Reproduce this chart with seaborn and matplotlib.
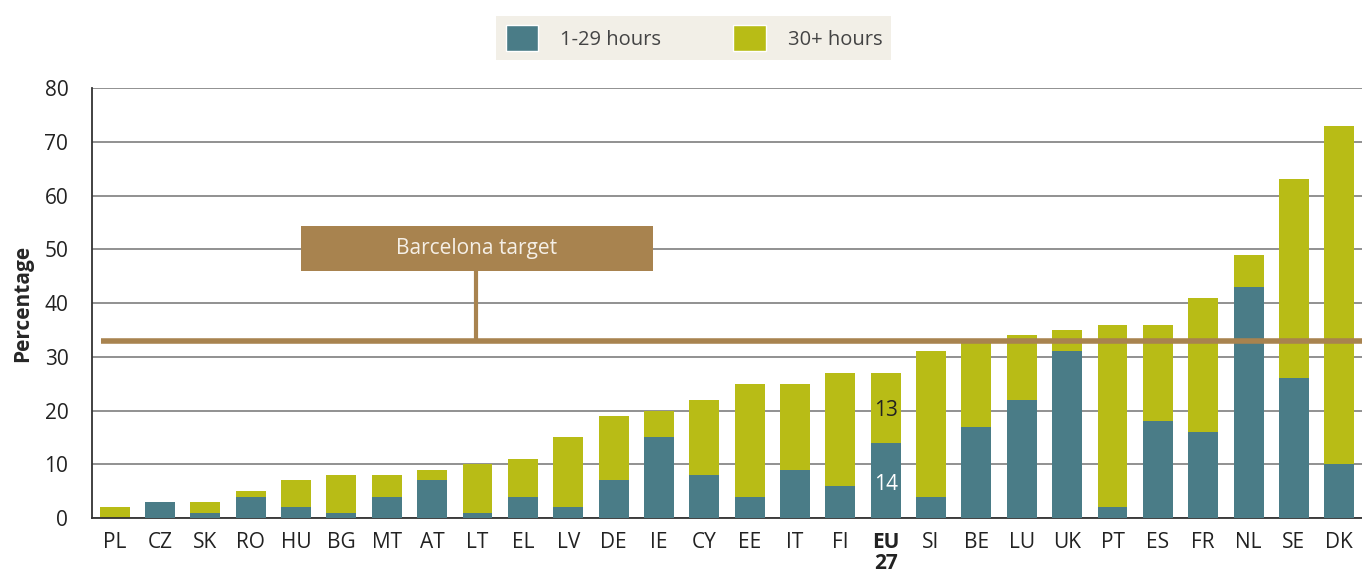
import numpy as np
import pandas as pd
import seaborn as sns
import matplotlib.pyplot as plt
from matplotlib.patches import Patch, Rectangle

# data
countries = ['PL', 'CZ', 'SK', 'RO', 'HU', 'BG', 'MT', 'AT', 'LT', 'EL', 'LV', 'DE', 'IE', 'CY',
             'EE', 'IT', 'FI', 'EU\n27', 'SI', 'BE', 'LU', 'UK', 'PT', 'ES', 'FR', 'NL', 'SE', 'DK']
hours_1_29 = [0, 3, 1, 4, 2, 1, 4, 7, 1, 4, 2, 7, 15, 8, 4, 9, 6, 14, 4, 17, 22, 31, 2, 18, 16, 43, 26, 10]
hours_30_plus = [2, 0, 2, 1, 5, 7, 4, 2, 9, 7, 13, 12, 5, 14, 21, 16, 21, 13, 27, 16, 12, 4, 34, 18, 25, 6, 37, 63]
barcelona_target = 33
y_ticks = [0, 10, 20, 30, 40, 50, 60, 70, 80]

teal = '#4a7c87'
olive = '#b8bc16'
brown = '#a8834f'

df = pd.DataFrame({'country': countries, 'short': hours_1_29, 'long': hours_30_plus})
df['total'] = df['short'] + df['long']

sns.set_style('white')
plt.rcParams['font.family'] = ['Open Sans', 'DejaVu Sans']

fig = plt.figure(figsize=(13.62, 5.81), dpi=100)
ax = fig.add_axes([0.0675, 0.1084, 0.9325, 0.7401])

# gridlines behind bars
for t in y_ticks:
    ax.axhline(t, color='#888888', lw=1.3, zorder=0)

# stacked bars: totals first (30+ hours on top), then 1-29 hours
sns.barplot(data=df, x='country', y='total', color=olive, saturation=1, width=0.66, linewidth=0,
            ax=ax, zorder=2)
sns.barplot(data=df, x='country', y='short', color=teal, saturation=1, width=0.66, linewidth=0,
            ax=ax, zorder=3)

n = len(countries)
ax.set_xlim(-0.5, n - 0.5)
ax.set_ylim(0, 80)
ax.set_yticks(y_ticks)
ax.tick_params(axis='y', length=9, width=1.3, color='#888888', labelsize=15, labelcolor='#222222', pad=8)
ax.tick_params(axis='x', which='major', length=0, labelsize=15, labelcolor='#222222', pad=10)
ax.set_xticks(np.arange(n) - 0.5, minor=True)
ax.tick_params(axis='x', which='minor', length=7, width=1.2, color='#555555', direction='out')
ax.set_xlabel('')
ax.set_ylabel('Percentage', fontsize=15, fontweight='bold', labelpad=8)
for lab in ax.get_xticklabels():
    if lab.get_text() == 'EU\n27':
        lab.set_fontweight('bold')
        lab.set_va('top')
        lab.set_linespacing(1.0)

for side in ['top', 'right']:
    ax.spines[side].set_visible(False)
ax.spines['left'].set_color('#333333')
ax.spines['left'].set_linewidth(1.3)
ax.spines['bottom'].set_color('#333333')
ax.spines['bottom'].set_linewidth(1.3)
ax.spines['left'].set_zorder(5)

# EU27 segment values
eu = countries.index('EU\n27')
ax.text(eu, 6.3, str(hours_1_29[eu]), ha='center', va='center', fontsize=15,
        color='white', zorder=6)
ax.text(eu, 20, str(hours_30_plus[eu]), ha='center',
        va='center', fontsize=15, color='#222222', zorder=6)

# Barcelona target line with label box
ax.plot([-0.3, n - 0.5], [barcelona_target, barcelona_target], color=brown, lw=4, zorder=4,
        solid_capstyle='butt', clip_on=False)
ax.plot([7.97, 7.97], [barcelona_target, 46.0], color=brown, lw=3, zorder=4)
ax.add_patch(Rectangle((4.10, 46.0), 7.77, 8.3, facecolor=brown, edgecolor='none', zorder=5))
ax.text(7.98, 50.2, 'Barcelona target', ha='center', va='center', fontsize=15, color='#f5efe6', zorder=6)

# legend
handles = [Patch(facecolor=teal, label='1-29 hours'), Patch(facecolor=olive, label='30+ hours')]
leg = fig.legend(handles=handles, loc='center', bbox_to_anchor=(0.5095, 0.9346), ncol=2, frameon=True,
                 fontsize=14.5, handlelength=1.6, handleheight=1.6, columnspacing=3.6, handletextpad=1.1,
                 borderpad=0.45, borderaxespad=0, fancybox=False)
leg.get_frame().set_facecolor('#efebe2')
leg.get_frame().set_edgecolor('none')
for txt in leg.get_texts():
    txt.set_color('#444444')

fig.savefig('out.png', dpi=100)
